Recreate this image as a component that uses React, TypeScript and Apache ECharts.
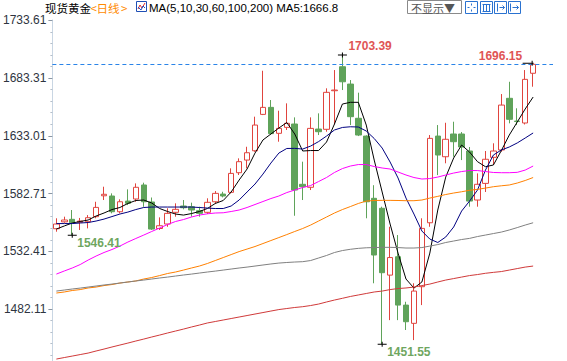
import React, { useEffect, useRef } from 'react';
import * as echarts from 'echarts';

const categories = Array.from({ length: 63 }, (_, i) => `D${i + 1}`);

const opens = [1552.1,1558.1,1560.3,1557.7,1558.2,1562.6,1580.8,1580.6,1566.9,1576.2,1578.0,1590.2,1575.4,1552.3,1556.2,1566.4,1571.9,1571.3,1567.8,1566.4,1575.6,1582.3,1583.8,1600.9,1611.9,1620.0,1651.7,1657.8,1635.2,1640.4,1643.3,1590.8,1588.2,1638.9,1638.7,1672.3,1693.2,1678.1,1648.3,1632.8,1578.6,1569.9,1511.7,1527.7,1485.6,1469.7,1501.6,1557.3,1632.8,1614.8,1634.6,1634.6,1619.8,1577.1,1591.6,1614.3,1620.7,1665.7,1645.9,1644.2,1687.5];
const closes = [1556.2,1559.7,1557.3,1558.8,1561.7,1570.7,1582.1,1566.9,1575.6,1574.2,1588.2,1575.6,1551.8,1554.7,1565.5,1569.0,1570.4,1568.4,1565.5,1575.1,1582.9,1580.6,1600.3,1610.5,1618.3,1642.4,1657.8,1634.9,1639.5,1643.9,1585.8,1588.7,1639.5,1636.6,1670.9,1672.9,1680.1,1649.7,1633.7,1575.6,1529.2,1513.8,1527.0,1485.6,1471.1,1497.8,1552.4,1630.8,1616.3,1630.0,1627.9,1623.3,1576.2,1590.8,1612.6,1619.8,1659.8,1647.4,1645.5,1682.2,1695.3];
const lows = [1549.5,1557.3,1546.41,1551.0,1552.4,1561.2,1577.1,1565.5,1565.5,1572.7,1575.6,1571.2,1551.0,1551.0,1553.8,1562.6,1569.0,1562.6,1562.6,1564.9,1573.6,1579.4,1582.9,1598.9,1604.7,1619.1,1651.1,1633.7,1627.9,1638.1,1563.4,1577.1,1585.8,1633.7,1636.6,1643.0,1672.9,1642.4,1632.8,1561.2,1504.6,1451.55,1472.5,1472.5,1463.9,1455.1,1485.6,1553.8,1598.8,1609.1,1614.8,1611.9,1571.3,1571.3,1584.1,1607.6,1619.2,1643.9,1642.4,1642.9,1675.8];
const highs = [1561.2,1562.6,1568.4,1561.5,1564.0,1575.6,1588.7,1582.9,1577.7,1586.4,1591.6,1592.2,1579.3,1562.0,1569.9,1574.2,1577.1,1574.8,1571.3,1578.6,1584.9,1584.3,1604.7,1613.4,1623.5,1649.7,1689.7,1664.2,1654.9,1661.3,1649.1,1610.5,1649.1,1652.6,1674.4,1690.3,1703.39,1681.6,1670.6,1633.5,1590.0,1571.3,1553.8,1546.6,1488.5,1504.6,1561.2,1633.7,1642.4,1644.4,1645.3,1636.3,1623.3,1600.3,1619.8,1626.5,1669.4,1680.1,1657.0,1690.3,1696.15];

const ma5 = [1551.8,1554.5,1557.1,1558.4,1559.7,1563.2,1565.8,1568.8,1570.6,1574.1,1576.7,1577.1,1574.5,1569.7,1567.1,1564.9,1564.0,1565.3,1567.1,1569.7,1574.1,1576.7,1584.1,1594.5,1604.1,1618.0,1629.4,1634.6,1639.8,1644.6,1634.6,1619.8,1620.2,1620.2,1627.6,1643.3,1660.7,1662.2,1662.2,1642.4,1611.9,1584.1,1556.2,1530.9,1508.3,1500.4,1505.7,1530.9,1568.4,1597.1,1613.7,1625.0,1618.9,1610.5,1606.1,1607.6,1620.2,1633.7,1645.0,1656.4,1666.8];
const ma10 = [1556.6,1556.6,1556.6,1557.1,1557.5,1558.8,1560.5,1562.7,1564.9,1566.6,1568.8,1570.6,1571.0,1571.0,1571.0,1571.0,1571.0,1571.0,1570.6,1570.1,1569.7,1569.7,1571.9,1577.1,1584.1,1591.0,1599.7,1609.3,1618.0,1622.0,1622.1,1621.5,1624.1,1628.0,1632.8,1638.1,1640.3,1640.9,1640.7,1637.2,1630.7,1622.4,1610.2,1596.3,1578.8,1564.9,1550.1,1543.1,1540.1,1544.9,1553.6,1567.5,1576.2,1585.8,1603.2,1616.3,1620.7,1623.3,1626.8,1631.1,1635.5];
const ma30 = [1512.6,1515.3,1517.9,1520.9,1524.8,1528.3,1531.4,1534.0,1537.0,1540.5,1543.6,1546.6,1549.7,1552.7,1555.8,1558.4,1560.1,1562.3,1564.0,1565.1,1565.8,1566.0,1567.1,1568.4,1570.6,1573.2,1575.8,1578.4,1580.6,1583.6,1585.8,1588.0,1589.7,1593.2,1596.7,1601.1,1604.5,1606.7,1608.0,1608.0,1606.3,1605.0,1604.1,1601.5,1598.9,1596.7,1595.4,1595.8,1597.1,1598.9,1600.6,1601.9,1602.8,1602.8,1601.9,1601.1,1600.9,1600.9,1601.2,1603.2,1606.7];
const ma60 = [1496.1,1497.0,1498.3,1499.1,1500.5,1501.3,1502.6,1503.5,1504.8,1505.7,1506.6,1508.3,1509.6,1511.3,1513.1,1514.4,1516.1,1517.9,1519.6,1521.8,1524.4,1527.0,1529.6,1532.2,1534.4,1536.6,1539.2,1541.8,1544.4,1547.0,1549.7,1552.3,1555.3,1558.8,1562.3,1565.8,1568.8,1571.4,1574.1,1576.2,1576.7,1576.8,1576.8,1576.7,1576.5,1576.5,1577.1,1578.8,1580.3,1581.9,1583.2,1584.3,1585.6,1586.4,1587.5,1588.7,1589.5,1590.2,1591.9,1594.1,1596.7];
const ma100 = [1497.8,1498.7,1499.6,1500.4,1501.3,1502.2,1503.1,1503.9,1504.8,1505.7,1506.6,1507.4,1508.3,1509.2,1510.0,1510.9,1511.8,1512.6,1513.5,1514.4,1515.2,1516.1,1517.0,1517.9,1518.7,1519.6,1520.5,1521.4,1522.2,1522.7,1523.1,1523.4,1524.4,1526.6,1528.8,1531.4,1533.1,1534.2,1535.0,1535.5,1535.7,1535.9,1535.9,1535.7,1535.3,1535.3,1535.7,1537.0,1538.3,1540.1,1541.4,1542.7,1543.7,1545.3,1546.6,1547.9,1549.2,1551.0,1553.1,1555.3,1557.3];
const ma200 = [1438.6,1439.9,1441.2,1442.5,1443.8,1445.6,1447.3,1449.1,1450.8,1452.5,1454.3,1456.0,1457.8,1459.5,1461.3,1463.0,1464.7,1466.5,1468.2,1470.0,1471.3,1472.6,1473.9,1475.2,1476.5,1477.8,1479.1,1480.4,1481.7,1482.6,1483.5,1484.2,1485.2,1486.5,1488.3,1490.0,1491.5,1493.1,1494.4,1495.7,1497.0,1497.8,1499.1,1500.0,1500.5,1501.3,1502.6,1503.9,1505.7,1507.4,1508.7,1510.0,1511.3,1512.2,1513.3,1514.1,1514.8,1516.1,1517.4,1518.7,1519.6];

const yTickLabels = [1482.11, 1532.41, 1582.71, 1633.01, 1683.31, 1733.61];
const yMin = 1436.9;
const yMax = 1733.9;

const maNames = ['MA5', 'MA10', 'MA30', 'MA60', 'MA100', 'MA200'];
const maColors = ['#000000', '#000080', '#ff00ff', '#ff8000', '#808080', '#d03a3a'];

// extreme marks: candle index, value, kind
const extremeIdx = [36, 60, 2, 41];
const extremeVal = [1703.39, 1696.15, 1546.41, 1451.55];
const extremeKind = ['high', 'last', 'low', 'low'];

export default function App() {
  const ref = useRef<HTMLDivElement>(null);
  useEffect(() => {
    document.body.style.margin = '0';
    const chart = echarts.init(ref.current!, null, { renderer: 'svg' });

    const step = (yTickLabels[1] - yTickLabels[0]) / 5;
    const minorTicks: number[] = [];
    for (let k = 0; ; k++) {
      const v = yTickLabels[yTickLabels.length - 1] - k * step;
      if (v < yMin) break;
      if (k % 5 !== 0) minorTicks.push(+v.toFixed(3));
    }

    const crossPath = 'path://M0,2L9,2L9,3L0,3Z M4,0L5,0L5,5L4,5Z';
    const lastPath = 'path://M0,2L11,2L11,3L0,3Z M9,0L10,0L10,5L9,5Z';

    const markData = extremeIdx.map((idx, i) => {
      const kind = extremeKind[i];
      const isHigh = kind !== 'low';
      const common = {
        coord: [categories[idx], extremeVal[i]],
        value: extremeVal[i],
        itemStyle: { color: '#000' },
      };
      if (kind === 'last') {
        return {
          ...common,
          symbol: lastPath,
          symbolSize: [11, 5],
          symbolOffset: [-5, 0],
          label: {
            show: true,
            formatter: extremeVal[i].toFixed(2),
            position: 'inside',
            align: 'right',
            verticalAlign: 'middle',
            offset: [-6, -7],
            color: '#e05555',
            fontWeight: 'bold',
            fontSize: 12,
            fontFamily: '"Liberation Sans", Arial, sans-serif',
          },
        };
      }
      return {
        ...common,
        symbol: crossPath,
        symbolSize: [9, 5],
        label: {
          show: true,
          formatter: extremeVal[i].toFixed(2),
          position: 'inside',
          align: 'left',
          verticalAlign: 'middle',
          offset: isHigh ? [6, -9] : [5, 8],
          color: isHigh ? '#e05555' : '#6fa65f',
          fontWeight: 'bold',
          fontSize: 12,
          fontFamily: '"Liberation Sans", Arial, sans-serif',
        },
      };
    });

    const maData = [ma5, ma10, ma30, ma60, ma100, ma200];
    const lineSeries = maData.map((d, i) => ({
      name: maNames[i],
      type: 'line',
      data: d,
      symbol: 'none',
      showSymbol: false,
      smooth: false,
      lineStyle: { color: maColors[i], width: 1 },
      z: 4,
      silent: true,
    }));

    const blue = '#2a72d0';
    const iconBox = (x: number) => ({
      type: 'rect',
      shape: { x: x + 0.5, y: 1.5, width: 12, height: 12 },
      style: { fill: '#fff', stroke: blue, lineWidth: 1 },
    });
    const ln = (x1: number, y1: number, x2: number, y2: number, c = blue) => ({
      type: 'line',
      shape: { x1, y1, x2, y2 },
      style: { stroke: c, lineWidth: 1 },
    });

    const option: any = {
      animation: false,
      backgroundColor: '#ffffff',
      grid: { left: 49, width: 504, top: 20, bottom: 0, containLabel: false },
      xAxis: {
        type: 'category',
        data: categories,
        boundaryGap: true,
        show: false,
      },
      yAxis: [
        {
          type: 'value',
          min: yMin,
          max: yMax,
          position: 'left',
          splitLine: { show: false },
          axisLine: { show: true, lineStyle: { color: '#c9d6e3', width: 1 } },
          axisTick: {
            show: true,
            length: 4,
            customValues: yTickLabels,
            lineStyle: { color: '#8a96a3' },
          },
          axisLabel: {
            show: true,
            customValues: yTickLabels,
            formatter: (v: number) => v.toFixed(2),
            color: '#2e3440',
            fontSize: 12,
            fontFamily: '"Liberation Sans", Arial, sans-serif',
            margin: 6,
            padding: [0, 0, 3, 0],
          },
        },
        {
          type: 'value',
          min: yMin,
          max: yMax,
          position: 'left',
          splitLine: { show: false },
          axisLine: { show: false },
          axisLabel: { show: false },
          axisTick: {
            show: true,
            length: 2,
            customValues: minorTicks,
            lineStyle: { color: '#b5bfca' },
          },
        },
      ],
      series: [
        {
          name: '现货黄金',
          type: 'candlestick',
          data: opens.map((o, i) => [o, closes[i], lows[i], highs[i]]),
          barWidth: 6,
          itemStyle: {
            color: '#ffffff',
            color0: '#5fa35a',
            borderColor: '#e0443e',
            borderColor0: '#5fa35a',
            borderWidth: 1,
          },
          z: 2,
          markLine: {
            silent: true,
            symbol: ['none', 'none'],
            label: { show: false },
            lineStyle: { color: '#2a84e8', type: [4, 3], width: 1 },
            data: [{ yAxis: closes[closes.length - 1] }],
          },
          markPoint: {
            silent: true,
            data: markData,
          },
        },
        ...lineSeries,
      ],
      graphic: [
        {
          type: 'text', x: 45, y: 7.5,
          style: { text: '现货黄金', fill: '#000', font: '11.5px "Noto Sans CJK SC"', verticalAlign: 'middle' },
        },
        {
          type: 'text', x: 90.5, y: 7.5,
          style: { text: '<', fill: '#ff8a00', font: '11.5px "Noto Sans CJK SC"', verticalAlign: 'middle' },
        },
        {
          type: 'text', x: 96.5, y: 7.5,
          style: { text: '日线', fill: '#ff8a00', font: '11.5px "Noto Sans CJK SC"', verticalAlign: 'middle' },
        },
        {
          type: 'text', x: 121, y: 7.5,
          style: { text: '>', fill: '#ff8a00', font: '11.5px "Noto Sans CJK SC"', verticalAlign: 'middle' },
        },
        {
          type: 'rect',
          shape: { x: 136.5, y: 1.5, width: 10, height: 10 },
          style: { fill: '#fff', stroke: '#1f4fb5', lineWidth: 1 },
        },
        {
          type: 'polyline',
          shape: { points: [[138, 9], [140, 5], [142, 8], [145, 3]] },
          style: { stroke: '#e03030', lineWidth: 1, fill: 'none' },
        },
        {
          type: 'polyline',
          shape: { points: [[138, 7], [141, 10], [143, 6], [145, 8]] },
          style: { stroke: '#2050c0', lineWidth: 1, fill: 'none' },
        },
        {
          type: 'text', x: 149, y: 7.5,
          style: {
            text: `MA(5,10,30,60,100,200) MA5:${ma5[ma5.length - 1].toFixed(1)}`,
            fill: '#000',
            font: '11.5px "Liberation Sans", Arial, sans-serif',
            verticalAlign: 'middle',
          },
        },
        {
          type: 'rect',
          shape: { x: 407.5, y: 0.5, width: 54, height: 13 },
          style: { fill: '#fff', stroke: '#8a8a8a', lineWidth: 1 },
        },
        {
          type: 'text', x: 411, y: 7.5,
          style: { text: '不显示▼', fill: '#555', font: '11px "Noto Sans CJK SC"', verticalAlign: 'middle' },
        },
        iconBox(465),
        ln(471.5, 3.5, 471.5, 5.5), ln(471.5, 9.5, 471.5, 11.5), ln(467.5, 7.5, 469.5, 7.5), ln(473.5, 7.5, 475.5, 7.5),
        iconBox(480),
        ln(482.5, 4.5, 490.5, 4.5), ln(483.5, 4.5, 483.5, 11.5), ln(486.5, 4.5, 486.5, 11.5), ln(489.5, 4.5, 489.5, 11.5), ln(482.5, 11.5, 490.5, 11.5),
        iconBox(494),
        ln(497.5, 3.5, 497.5, 11.5), ln(499.5, 7.5, 504.5, 7.5), ln(502.5, 5.5, 504.5, 7.5), ln(502.5, 9.5, 504.5, 7.5),
        iconBox(508),
        ln(510.5, 3.5, 510.5, 11.5), ln(512.5, 7.5, 518.5, 7.5), ln(516.5, 5.5, 518.5, 7.5), ln(516.5, 9.5, 518.5, 7.5),
      ],
    };

    chart.setOption(option);
    return () => chart.dispose();
  }, []);
  return <div ref={ref} style={{ position: 'absolute', left: 0, top: 0, width: 567, height: 361 }} />;
}
